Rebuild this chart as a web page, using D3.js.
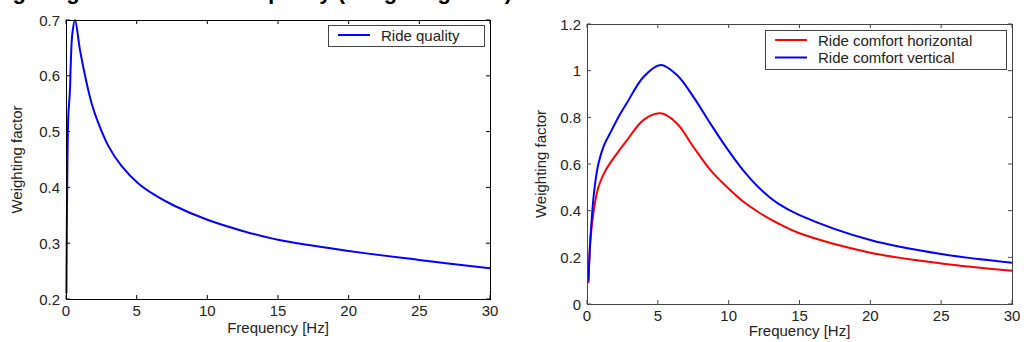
<!DOCTYPE html>
<head>
  <meta charset="utf-8">
  <script src="https://d3js.org/d3.v7.min.js"></script>
  <style>
    body { margin: 0; background: #fff; }
    svg { display: block; }
    text { font-family: "Liberation Sans", Arial, sans-serif; fill: #222; }
  </style>
</head>
<body>
<script>
// left panel: ride quality weighting
var qualityFreq = [0.03, 0.08, 0.16, 0.28, 0.33, 0.45, 0.64, 0.99, 1.46, 1.82, 2.29, 3.0, 3.94, 5.12, 6.3, 7.59, 10, 12.5, 15, 20, 25, 30];
var qualityValues = [0.21, 0.39, 0.526, 0.574, 0.616, 0.676, 0.70, 0.646, 0.587, 0.55, 0.515, 0.474, 0.438, 0.407, 0.386, 0.368, 0.342, 0.322, 0.306, 0.286, 0.270, 0.255];

// right panel: ride comfort weighting
var comfortFreq = [0.1, 0.25, 0.5, 0.8, 1.2, 1.7, 2.3, 2.8, 4.0, 5.2, 6.35, 7.5, 8.7, 9.9, 11, 12.2, 13.5, 15, 20, 25, 30];
var comfortHorizontal = [0.09, 0.28, 0.41, 0.50, 0.56, 0.61, 0.66, 0.70, 0.789, 0.817, 0.774, 0.674, 0.575, 0.50, 0.44, 0.39, 0.345, 0.303, 0.22, 0.174, 0.143];
var comfortVertical = [0.10, 0.29, 0.48, 0.60, 0.68, 0.74, 0.81, 0.86, 0.974, 1.024, 0.981, 0.889, 0.774, 0.665, 0.575, 0.495, 0.43, 0.381, 0.274, 0.214, 0.177];

var xTicks = [0, 5, 10, 15, 20, 25, 30];
var qualityYTicks = [0.2, 0.3, 0.4, 0.5, 0.6, 0.7];
var comfortYTicks = [0, 0.2, 0.4, 0.6, 0.8, 1, 1.2];

var svg = d3.select("body").append("svg")
  .attr("width", 1024)
  .attr("height", 342);

// title of the page, mostly cropped off at the top
svg.append("text")
  .attr("x", 512).attr("y", -1)
  .attr("text-anchor", "end")
  .style("font-size", "22px").style("font-weight", "bold")
  .style("fill", "#000")
  .text("Weighting function for ride quality (Weighting filter)");

function drawPanel(p) {
  var x = d3.scaleLinear().domain([0, 30]).range([p.left, p.right]);
  var y = d3.scaleLinear().domain(p.yDomain).range([p.bottom, p.top]);
  var g = svg.append("g");

  // curves
  var line = d3.line()
    .x(function(d) { return x(d[0]); })
    .y(function(d) { return y(d[1]); })
    .curve(d3.curveCatmullRom.alpha(0.5));
  p.series.forEach(function(s) {
    g.append("path")
      .datum(d3.zip(p.freq, s.values))
      .attr("fill", "none")
      .attr("stroke", s.color)
      .attr("stroke-width", 2)
      .attr("d", line);
  });

  // ticks pointing inward on all four sides
  var tl = 4;
  xTicks.forEach(function(t) {
    g.append("line").attr("x1", x(t)).attr("x2", x(t)).attr("y1", p.bottom).attr("y2", p.bottom - tl).attr("stroke", p.frame);
    g.append("line").attr("x1", x(t)).attr("x2", x(t)).attr("y1", p.top).attr("y2", p.top + tl).attr("stroke", p.frame);
    g.append("text").attr("x", x(t)).attr("y", p.bottom + 16.5)
      .attr("text-anchor", "middle").style("font-size", "15px").text(t);
  });
  p.yTicks.forEach(function(t) {
    g.append("line").attr("x1", p.left).attr("x2", p.left + tl).attr("y1", y(t)).attr("y2", y(t)).attr("stroke", p.frame);
    g.append("line").attr("x1", p.right).attr("x2", p.right - tl).attr("y1", y(t)).attr("y2", y(t)).attr("stroke", p.frame);
    g.append("text").attr("x", p.left - 6).attr("y", y(t) + 5.5)
      .attr("text-anchor", "end").style("font-size", "15px").text(t);
  });

  // frame
  g.append("rect")
    .attr("x", p.left + 0.5).attr("y", p.top + 0.5)
    .attr("width", p.right - p.left).attr("height", p.bottom - p.top)
    .attr("fill", "none").attr("stroke", p.frame);

  // axis labels
  g.append("text")
    .attr("x", (p.left + p.right) / 2).attr("y", p.bottom + p.xLabelGap)
    .attr("text-anchor", "middle").style("font-size", "15px")
    .text("Frequency [Hz]");
  g.append("text")
    .attr("transform", "translate(" + p.yLabelX + "," + (p.top + p.bottom) / 2 + ") rotate(-90)")
    .attr("text-anchor", "middle").style("font-size", "15px")
    .text("Weighting factor");

  // legend
  var lg = p.legend;
  g.append("rect")
    .attr("x", lg.x + 0.5).attr("y", lg.y + 0.5)
    .attr("width", lg.w).attr("height", lg.h)
    .attr("fill", "#fff").attr("stroke", "#444");
  p.series.forEach(function(s, i) {
    var ly = lg.y + 10 + i * 17.5;
    g.append("line")
      .attr("x1", lg.x + 10).attr("x2", lg.x + 42)
      .attr("y1", ly).attr("y2", ly)
      .attr("stroke", s.color).attr("stroke-width", 2);
    g.append("text")
      .attr("x", lg.x + 53).attr("y", ly + 5.5)
      .style("font-size", "15px").text(s.name);
  });
}

drawPanel({
  left: 66, right: 490, top: 20, bottom: 299,
  yDomain: [0.2, 0.7], yTicks: qualityYTicks, yLabelX: 22, xLabelGap: 34,
  frame: "#000",
  freq: qualityFreq,
  series: [{ name: "Ride quality", color: "#0000ff", values: qualityValues }],
  legend: { x: 328, y: 25, w: 156, h: 21 }
});

drawPanel({
  left: 587, right: 1012, top: 24, bottom: 304,
  yDomain: [0, 1.2], yTicks: comfortYTicks, yLabelX: 546, xLabelGap: 31.5,
  frame: "#444",
  freq: comfortFreq,
  series: [
    { name: "Ride comfort horizontal", color: "#ff0000", values: comfortHorizontal },
    { name: "Ride comfort vertical", color: "#0000ff", values: comfortVertical }
  ],
  legend: { x: 765, y: 30, w: 241, h: 39 }
});
</script>
</body>
